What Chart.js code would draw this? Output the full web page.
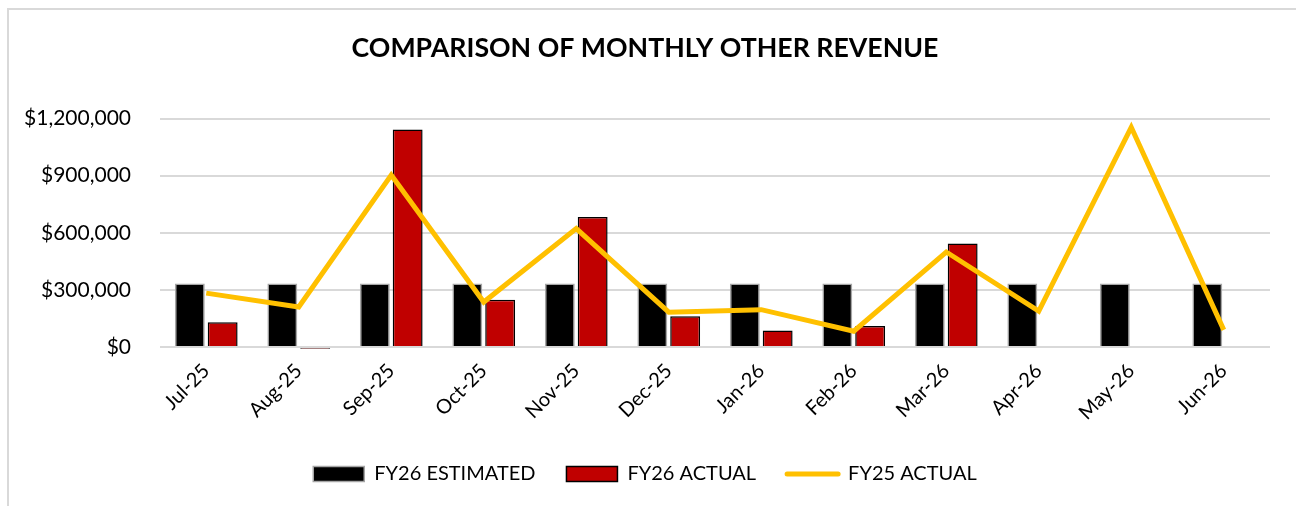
<!DOCTYPE html>
<html>
<head>
<meta charset="utf-8">
<script src="https://cdn.jsdelivr.net/npm/chart.js@4.4.0/dist/chart.umd.min.js"></script>
<style>
  html, body { margin: 0; padding: 0; background: #fff; }
  #wrap { width: 1296px; height: 506px; }
</style>
</head>
<body>
<div id="wrap"><canvas id="revenue-chart" width="1296" height="506"></canvas></div>
<script>
const months = ["Jul-25", "Aug-25", "Sep-25", "Oct-25", "Nov-25", "Dec-25",
  "Jan-26", "Feb-26", "Mar-26", "Apr-26", "May-26", "Jun-26"];
const fy26Estimated = [333333, 333333, 333333, 333333, 333333, 333333,
  333333, 333333, 333333, 333333, 333333, 333333];
const fy26Actual = [130000, -9000, 1143000, 248000, 683000, 162000,
  87000, 110000, 543000, null, null, null];
const fy25Actual = [283000, 210000, 903000, 236000, 622000, 183000,
  196000, 83000, 499000, 188000, 1154000, 90000];
const yTicks = [0, 300000, 600000, 900000, 1200000];

const FONT = "Lato, 'Open Sans', sans-serif";

// light grey frame round the chart, like the spreadsheet export
const frame = {
  id: "frame",
  beforeDraw(chart) {
    const c = chart.ctx;
    c.save();
    c.fillStyle = "#fff";
    c.fillRect(0, 0, chart.width, chart.height);
    c.strokeStyle = "#d9d9d9";
    c.lineWidth = 2;
    c.beginPath();
    c.moveTo(8, chart.height);
    c.lineTo(8, 9);
    c.lineTo(chart.width, 9);
    c.stroke();
    c.restore();
  }
};

const ctx = document.getElementById("revenue-chart").getContext("2d");
const revenueChart = new Chart(ctx, {
  type: "bar",
  data: {
    labels: months,
    datasets: [{
      label: "FY26 ESTIMATED",
      data: fy26Estimated,
      backgroundColor: "#000000",
      borderColor: "#a6a6a6",
      borderWidth: 1.5,
      categoryPercentage: 0.71,
      barPercentage: 0.91,
      order: 1,
    }, {
      label: "FY26 ACTUAL",
      data: fy26Actual,
      backgroundColor: "#c00000",
      borderColor: "#000000",
      borderWidth: 1.5,
      categoryPercentage: 0.71,
      barPercentage: 0.91,
      clip: false,
      order: 2,
    }, {
      type: "line",
      label: "FY25 ACTUAL",
      data: fy25Actual,
      borderColor: "#ffc000",
      backgroundColor: "#ffc000",
      borderWidth: 5,
      pointRadius: 0,
      tension: 0,
      order: 0,
    }],
  },
  options: {
    responsive: false,
    animation: false,
    layout: { padding: { left: 20, right: 26, top: 20, bottom: 12 } },
    plugins: {
      title: {
        display: true,
        text: "COMPARISON OF MONTHLY OTHER REVENUE",
        color: "#000",
        font: { family: FONT, size: 26.7, weight: "bold" },
        padding: { top: 12, bottom: 54.5 },
      },
      legend: {
        position: "bottom",
        labels: {
          color: "#000",
          font: { family: FONT, size: 20 },
          usePointStyle: true,
          pointStyleWidth: 51,
          boxHeight: 15,
          padding: 31,
          generateLabels: () => [
            { text: "FY26 ESTIMATED", pointStyle: "rect", fillStyle: "#000", strokeStyle: "#a6a6a6", lineWidth: 1.5, fontColor: "#000", datasetIndex: 0 },
            { text: "FY26 ACTUAL", pointStyle: "rect", fillStyle: "#c00000", strokeStyle: "#000", lineWidth: 1.5, fontColor: "#000", datasetIndex: 1 },
            { text: "FY25 ACTUAL", pointStyle: "line", fillStyle: "#ffc000", strokeStyle: "#ffc000", lineWidth: 5, lineCap: "round", fontColor: "#000", datasetIndex: 2 },
          ],
        },
      },
      tooltip: { enabled: false },
    },
    scales: {
      x: {
        grid: { display: false },
        border: { display: false },
        ticks: { color: "#000", font: { family: FONT, size: 20 }, minRotation: 45, maxRotation: 45, padding: 4 },
        afterFit: (axis) => { axis.height = 86; },
      },
      y: {
        min: 0,
        max: 1200000,
        afterBuildTicks: (axis) => { axis.ticks = yTicks.map(v => ({ value: v })); },
        grid: { color: "#d9d9d9", lineWidth: 2, drawTicks: false },
        border: { display: false },
        ticks: {
          color: "#000",
          font: { family: FONT, size: 21 },
          padding: 29,
          callback: (v) => "$" + Number(v).toLocaleString("en-US"),
        },
        afterFit: (axis) => { axis.width = 140; },
      },
    },
  },
  plugins: [frame],
});
</script>
</body>
</html>
